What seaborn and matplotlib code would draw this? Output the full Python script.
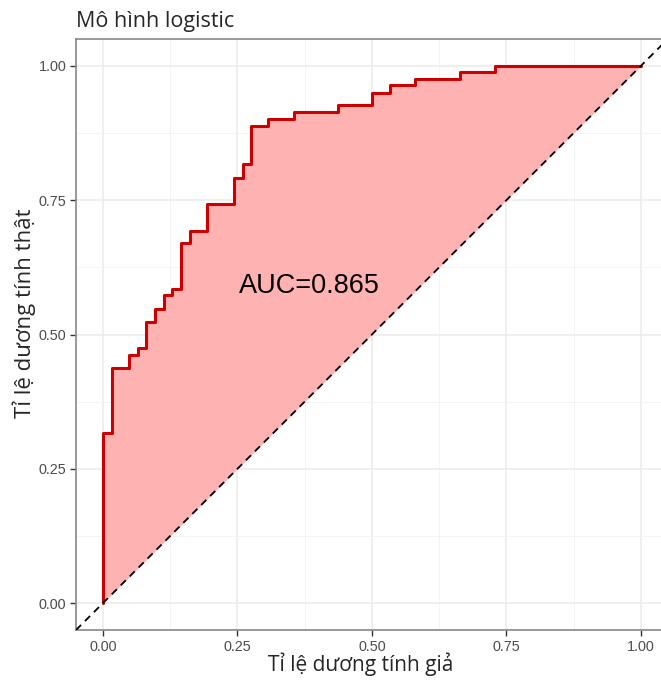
import matplotlib
matplotlib.use("Agg")
from matplotlib import pyplot as plt
import seaborn as sns
import numpy as np

# ROC curve corner points (steps: right, then up)
fpr = [0.000, 0.000, 0.016, 0.049, 0.066, 0.081, 0.097, 0.114, 0.129, 0.145,
       0.162, 0.194, 0.243, 0.260, 0.275, 0.307, 0.355, 0.437, 0.501, 0.534,
       0.580, 0.664, 0.729, 1.000]
tpr = [0.000, 0.316, 0.437, 0.462, 0.475, 0.523, 0.548, 0.573, 0.585, 0.670,
       0.693, 0.743, 0.792, 0.817, 0.888, 0.901, 0.914, 0.927, 0.950, 0.964,
       0.975, 0.988, 1.000, 1.000]
auc_value = 0.865
ticks = [0.00, 0.25, 0.50, 0.75, 1.00]
tick_labels = ["0.00", "0.25", "0.50", "0.75", "1.00"]

# expand to explicit staircase (horizontal first, then vertical)
step_x, step_y = [fpr[0]], [tpr[0]]
for i in range(1, len(fpr)):
    step_x += [fpr[i], fpr[i]]
    step_y += [tpr[i - 1], tpr[i]]
step_x = np.array(step_x)
step_y = np.array(step_y)

sns.set_theme(style="white")
plt.rcParams["font.family"] = ["Liberation Sans", "DejaVu Sans"]

fig = plt.figure(figsize=(6.61, 6.80), dpi=100)
W, H = 661, 680
left, right, top, bottom = 76, 667.8, 39, 630
ax = fig.add_axes([left / W, 1 - bottom / H, (right - left) / W, (bottom - top) / H])

ax.fill_between(step_x, step_y, step_x, color="#FFB2B2", linewidth=0, zorder=2)
sns.lineplot(x=step_x, y=step_y, sort=False, estimator=None, color="#CC0000",
             linewidth=2.2, ax=ax, zorder=3)
ax.axline((0, 0), (1, 1), color="black", linestyle=(0, (4, 3)), linewidth=1.3, zorder=4)

ax.text(0.384, 0.59, f"AUC={auc_value}", ha="center", va="center",
        fontsize=19.5, color="black", zorder=5)

ax.set_xlim(-0.05, 1.05)
ax.set_ylim(-0.05, 1.05)
ax.set_xticks(ticks)
ax.set_xticklabels(tick_labels)
ax.set_yticks(ticks)
ax.set_yticklabels(tick_labels)
ax.set_xticks([0.125, 0.375, 0.625, 0.875], minor=True)
ax.set_yticks([0.125, 0.375, 0.625, 0.875], minor=True)
ax.grid(True, which="major", color="#EBEBEB", linewidth=1.1, zorder=0)
ax.grid(True, which="minor", color="#F2F2F2", linewidth=0.6, zorder=0)
ax.set_axisbelow(True)

ax.tick_params(axis="both", which="major", length=4, width=1, color="#333333",
               labelsize=10.4, labelcolor="#4D4D4D", pad=3, bottom=True, left=True)
ax.tick_params(axis="both", which="minor", length=0)
for side in ax.spines.values():
    side.set_color("#888888")
    side.set_linewidth(1.2)
ax.spines["right"].set_visible(False)

title_font = ["Open Sans", "DejaVu Sans"]
ax.set_xlabel("Tỉ lệ dương tính giả", fontsize=15, family=title_font)
ax.set_ylabel("Tỉ lệ dương tính thật", fontsize=16, family=title_font)
ax.xaxis.set_label_coords((361 - left) / (right - left), -(664 - bottom) / (bottom - top), transform=ax.transAxes)
ax.yaxis.set_label_coords(-(52) / (right - left), (bottom - 313) / (bottom - top), transform=ax.transAxes)
ax.xaxis.label.set_va("center")
ax.yaxis.label.set_va("center")
fig.text(76 / W, 1 - 22 / H, "Mô hình logistic", fontsize=15.5, family=title_font,
         ha="left", va="center")

fig.savefig("out.png", dpi=100)
